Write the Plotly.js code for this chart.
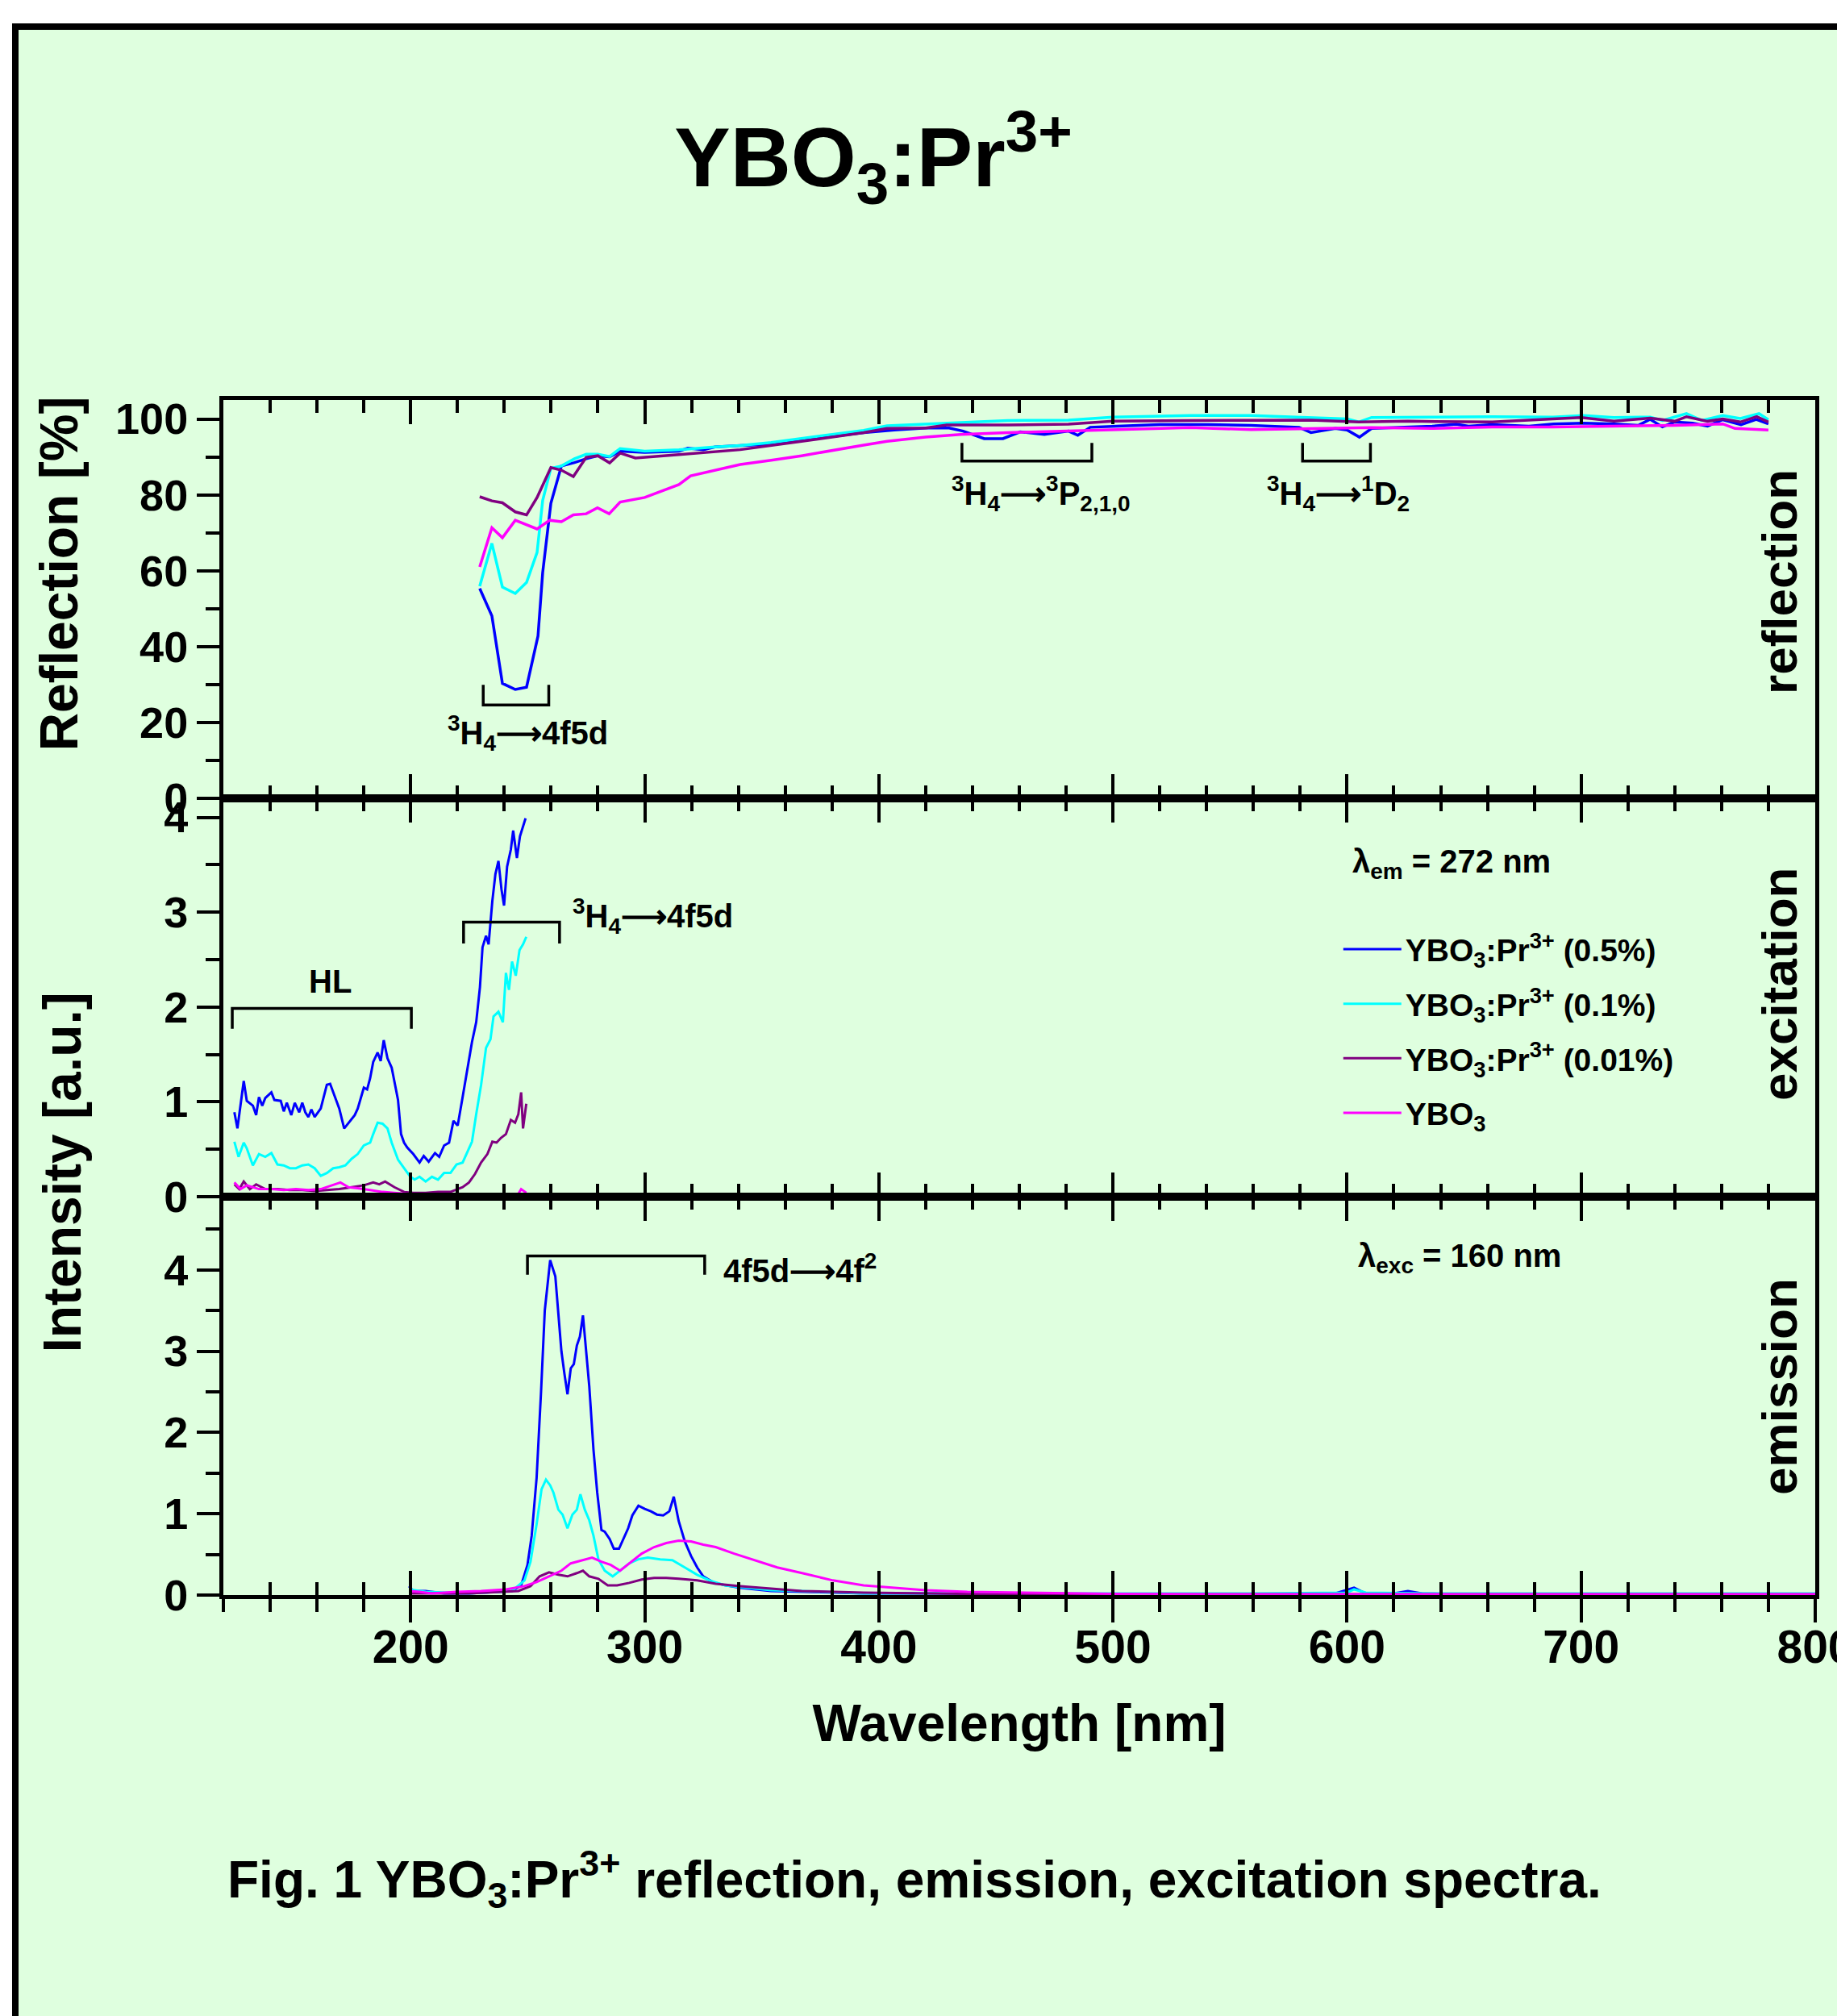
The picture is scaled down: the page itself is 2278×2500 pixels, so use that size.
<!DOCTYPE html>
<html>
<head>
<meta charset="utf-8">
<script src="https://cdn.plot.ly/plotly-3.0.1.min.js"></script>
<style>
  html, body { margin: 0; padding: 0; background: #ffffff; }
  #chart { width: 2278px; height: 2500px; }
</style>
</head>
<body>
<div id="chart"></div>
<script>
// ---------- series names / colours ----------
const seriesNames = [
  'YBO<sub>3</sub>:Pr<sup>3+</sup> (0.5%)',
  'YBO<sub>3</sub>:Pr<sup>3+</sup> (0.1%)',
  'YBO<sub>3</sub>:Pr<sup>3+</sup> (0.01%)',
  'YBO<sub>3</sub>'
];
const seriesColors = ['#0000ff', '#00ffff', '#800080', '#ff00ff'];

// ---------- reflection [%] ----------
const reflX_05 = [229.5,234.7,239.2,244.7,249.5,254.4,256.4,259.9,264.4,270,275,280,285,289.5,300,314.6,318.4,325,330,340.8,354,367,380,393.5,406.6,420,430,436,445,453,460.4,470.7,481,485,490.3,501.8,520,540.6,558.8,579.5,584.6,595,600,605.3,610.5,636.4,646.7,651.9,662,677.7,688.2,701,714,724.4,729.5,734.7,739.9,747.6,754,760.5,768.3,774.8,780];
const reflY_05 = [55.3,48.1,30.3,28.7,29.3,42.8,59.5,77.8,87.6,88.5,89.5,90.3,90.0,91.5,91.2,91.5,92.3,91.9,92.6,93.0,93.3,94.4,95.4,96.4,97.1,97.6,97.6,96.8,94.8,94.8,96.6,95.9,96.8,95.7,97.8,98.1,98.5,98.5,98.3,97.8,96.4,97.5,97.1,95.2,97.5,98.1,98.6,98.1,98.5,98.1,98.7,98.9,98.7,98.3,99.9,97.9,99.2,98.9,98.1,99.8,98.5,99.9,98.7];

const reflX_01 = [229.5,234.7,239.2,244.7,249.5,254,256.4,259.9,264.4,270,275,280,285,289.5,300,314.6,330,340.8,354,367,380,393.5,403.5,420,429.3,445,455,481,500,517,533,559,584.6,600,605,610.5,636,662,688,701,714,729.5,734.7,745,751.5,760.5,768,776,780];
const reflY_01 = [55.9,67.2,55.7,54.0,56.9,64.8,78.5,87.0,87.6,89.5,90.7,90.7,90.1,92.2,91.5,91.9,92.6,93.0,93.8,94.8,95.9,97.0,98.2,98.7,99.0,99.3,99.6,99.7,100.5,100.7,100.9,100.9,100.4,100.0,99.2,100.4,100.5,100.6,100.5,100.9,100.4,100.5,99.6,101.4,99.6,100.9,100.1,101.4,99.8];

const reflX_001 = [229.5,234.7,239.2,244.7,249.5,254,259.9,264.4,269.5,275,280,285,289.5,296,314.6,340.8,367,393.5,403.5,420,429,455,481,500,533,559,584.6,605,626,662,700,714,729.5,740,745,754,760.5,768,775,780];
const reflY_001 = [79.5,78.4,77.9,75.5,74.7,79.3,87.2,86.5,84.8,89.9,90.3,88.4,91.0,89.7,90.6,91.9,94.1,96.4,97.5,97.6,98.4,98.4,98.6,99.4,99.6,99.7,99.7,99.2,99.4,99.2,100.4,99.4,100.2,99.4,100.6,99.4,100.0,99.2,100.6,99.2];

const reflX_0 = [229.5,234.7,239.2,244.7,254,259.4,264.4,269.5,275,279.8,284.8,289.5,300,309,314.6,319.6,332.6,340.8,354,367,393.5,403.5,420,435,455,500,533,559,584.6,610.5,636,662,688,714,740,760.5,765.7,780];
const reflY_0 = [61.0,71.3,68.7,73.3,71.0,73.3,72.9,74.7,75.0,76.6,75.0,78.1,79.3,81.4,82.7,85.0,86.9,88.0,89.1,90.3,93.1,94.1,95.2,95.9,96.4,97.2,97.7,97.2,97.5,97.7,97.5,97.9,97.9,98.1,98.3,98.7,97.5,97.1];

// ---------- excitation (lambda_em = 272 nm) ----------
const excX_05 = [124.7,126,128.7,130,132.6,134,135.2,136.6,137.9,140.5,141.8,144.5,145.8,147.1,149,150.5,152.4,153.7,155,156.3,157.6,159,161.6,164.2,165.6,168.2,169.5,171.6,173.5,176.1,177.4,180,181.4,182.7,184,185.9,187.2,188.5,190.1,191.9,194.6,195.9,197.2,198.5,201.1,203.8,205.6,207.7,210.4,212.2,214.3,216.4,218.3,220.1,222.2,224.3,226.2,228,229.6,230.7,232.2,233.3,234.9,236.2,237.5,238.8,239.9,241.2,242.8,243.8,245.4,246.7,248,249.1];
const excY_05 = [0.89,0.72,1.22,1.01,0.96,0.86,1.05,0.96,1.04,1.10,1.02,1.01,0.90,0.99,0.86,0.99,0.89,0.99,0.89,0.84,0.92,0.84,0.93,1.18,1.19,1.02,0.93,0.72,0.78,0.86,0.93,1.15,1.13,1.25,1.42,1.52,1.43,1.65,1.46,1.36,1.02,0.66,0.57,0.52,0.45,0.36,0.43,0.37,0.46,0.42,0.54,0.57,0.80,0.75,1.05,1.36,1.63,1.84,2.21,2.63,2.75,2.66,3.12,3.40,3.54,3.24,3.07,3.48,3.66,3.86,3.57,3.80,3.90,3.99];

const excX_01 = [124.7,126.5,128.7,130,132.6,135.2,137.9,140.5,143.1,145.8,148.4,151,153.7,156.3,159,161.6,164.2,166.9,169.5,172.1,174.8,177.4,180,182.7,184,185.9,188,190.1,191.9,194.6,197.2,199.9,201.7,203.8,206.4,209.1,211.7,214.3,217,219.6,222.2,224.3,226.2,228,230.1,232.2,234.1,235.4,237.5,239.4,240.7,242,243.3,244.9,246.5,248,249.4];
const excY_01 = [0.58,0.42,0.57,0.51,0.33,0.45,0.42,0.46,0.34,0.33,0.30,0.30,0.33,0.34,0.30,0.22,0.25,0.30,0.31,0.33,0.40,0.45,0.54,0.57,0.66,0.78,0.77,0.72,0.57,0.39,0.30,0.21,0.18,0.21,0.16,0.21,0.18,0.25,0.25,0.34,0.36,0.48,0.58,0.87,1.18,1.57,1.66,1.90,1.95,1.84,2.36,2.18,2.48,2.33,2.60,2.66,2.74];

const excX_001 = [124.7,126.8,128.7,131.3,134,137.9,143.1,148.4,153.7,159,164.2,169.5,174.8,180,184,186.6,189.1,193.1,197.2,201.1,206.4,211.7,217,222.2,224.9,227.5,230.1,232.8,234.9,236.7,238.6,240.7,242.8,244.6,246,247.2,248,249.4];
const excY_001 = [0.13,0.08,0.16,0.08,0.13,0.08,0.08,0.07,0.07,0.06,0.07,0.08,0.10,0.12,0.15,0.13,0.16,0.10,0.05,0.04,0.04,0.05,0.05,0.10,0.15,0.24,0.36,0.45,0.58,0.57,0.62,0.66,0.81,0.78,0.87,1.10,0.72,0.98];

const excX_0 = [124.7,127.3,130,135.2,140.5,145.8,151,156.3,161.6,166.9,170,173.5,177.4,182.7,188,193.1,198.5,203.8,209.1,214.3,219.6,224.9,230.1,235.4,240.7,246,247.2,249.4];
const excY_0 = [0.15,0.08,0.12,0.08,0.08,0.07,0.08,0.07,0.08,0.12,0.15,0.10,0.09,0.07,0.05,0.04,0.03,0.03,0.02,0.02,0.02,0.02,0.02,0.02,0.02,0.03,0.08,0.04];

// ---------- emission (lambda_exc = 160 nm) ----------
const emX_05 = [199.3,201.1,206.4,214.3,224.9,235.4,243.3,247.2,249.9,251.7,253.8,255.7,257.3,258.6,259.6,261.8,263.1,264.4,265.7,267,268.4,269.7,271,272.3,273.6,275,276.3,278.1,279.7,281.5,282.9,285,286.8,289,290.8,292.9,294.7,297.3,300,302.6,305.2,307.9,310.5,312.4,314.5,317.1,319.8,322.4,325,329,334.3,340.8,354,367.2,393.5,420,450,500,550,595,603,608,620,626,632,650,700,750,800];
const emY_05 = [0.11,0.05,0.05,0.02,0.02,0.04,0.05,0.12,0.37,0.73,1.44,2.50,3.50,3.85,4.12,3.92,3.50,3.00,2.72,2.47,2.79,2.84,3.07,3.18,3.44,3.00,2.57,1.79,1.26,0.80,0.78,0.69,0.57,0.57,0.69,0.82,0.98,1.10,1.06,1.03,0.99,0.98,1.03,1.21,0.91,0.66,0.48,0.34,0.23,0.16,0.12,0.09,0.05,0.04,0.02,0.02,0.01,0.01,0.01,0.02,0.09,0.02,0.02,0.05,0.02,0.01,0.01,0.01,0.01];

const emX_01 = [199.3,206.4,224.9,243.3,248.6,251.2,253.8,255.9,257.8,259.6,261,263.1,264.9,267,269.1,271,272.5,274.4,276.3,278.1,280.2,282.9,286.3,289.5,293.4,297.3,301.3,306.6,311.8,317.1,322.4,327.7,334.3,340.8,354,367,393.5,420,500,560,600,603,608,640,700,800];
const emY_01 = [0.07,0.04,0.02,0.05,0.18,0.41,0.87,1.30,1.42,1.35,1.26,1.05,0.99,0.82,0.99,1.05,1.24,1.05,0.92,0.73,0.44,0.30,0.23,0.30,0.39,0.44,0.46,0.44,0.43,0.34,0.25,0.18,0.12,0.10,0.06,0.05,0.02,0.02,0.02,0.02,0.03,0.07,0.03,0.02,0.02,0.02];

const emX_001 = [199.3,224.9,246,251.2,255.1,259.1,263.1,267,271,273.6,276.3,280.2,284.2,288.2,293.4,298.7,304,309.2,314.5,322.4,330.3,340.8,354,367,393.5,419.9,450,500,600,700,800];
const emY_001 = [0.02,0.02,0.05,0.11,0.23,0.28,0.25,0.23,0.27,0.30,0.23,0.20,0.12,0.12,0.15,0.19,0.21,0.21,0.20,0.18,0.14,0.11,0.08,0.05,0.03,0.02,0.01,0.01,0.01,0.01,0.01];

const emX_0 = [199.3,203.8,209,219.6,230.1,240.7,248.6,253.8,259.1,264.4,268.4,273.6,277.5,281.5,285.5,289.5,293.4,298.7,304,309.2,314.5,319.8,325,330.3,338.2,346.1,356.6,367.2,380.4,393.5,406.7,419.9,437.8,460,500,550,600,700,800];
const emY_0 = [0.05,0.04,0.02,0.04,0.05,0.07,0.11,0.16,0.23,0.30,0.39,0.43,0.46,0.41,0.37,0.30,0.39,0.51,0.59,0.64,0.67,0.66,0.62,0.59,0.51,0.44,0.34,0.27,0.18,0.12,0.09,0.06,0.04,0.03,0.015,0.01,0.01,0.01,0.01];

// ---------- axis ranges ----------
const xRange = [120, 800.001];
const reflRange = [0, 105];
const excRange = [0, 4.2];
const emRange = [0, 4.9];

// ---------- fonts ----------
const SANS = "'Liberation Sans', Arial, Helvetica, sans-serif";
const BG = '#dfffdf';
const ARROW = '⟶';

// ---------- traces ----------
const refl = [[reflX_05, reflY_05], [reflX_01, reflY_01], [reflX_001, reflY_001], [reflX_0, reflY_0]];
const exc = [[excX_05, excY_05], [excX_01, excY_01], [excX_001, excY_001], [excX_0, excY_0]];
const em = [[emX_05, emY_05], [emX_01, emY_01], [emX_001, emY_001], [emX_0, emY_0]];

const traces = [];
refl.forEach((s, i) => traces.push({
  x: s[0], y: s[1], xaxis: 'x', yaxis: 'y', type: 'scatter', mode: 'lines',
  name: seriesNames[i], legendgroup: 'g' + i, showlegend: false,
  line: { color: seriesColors[i], width: 3.5 }
}));
exc.forEach((s, i) => traces.push({
  x: s[0], y: s[1], xaxis: 'x2', yaxis: 'y2', type: 'scatter', mode: 'lines',
  name: seriesNames[i], legendgroup: 'g' + i, showlegend: true,
  line: { color: seriesColors[i], width: 3 }
}));
em.forEach((s, i) => traces.push({
  x: s[0], y: s[1], xaxis: 'x3', yaxis: 'y3', type: 'scatter', mode: 'lines',
  name: seriesNames[i], legendgroup: 'g' + i, showlegend: false,
  line: { color: seriesColors[i], width: 3 }
}));
// empty helper trace so the overlay axis carrying the inner ticks exists
traces.push({ x: [], y: [], xaxis: 'x4', yaxis: 'y3', type: 'scatter', mode: 'lines', showlegend: false, hoverinfo: 'skip' });

// ---------- axes ----------
function xAx(anchor, extra) {
  return Object.assign({
    anchor: anchor, range: xRange, tick0: 0, dtick: 100,
    showline: true, linecolor: 'black', linewidth: 5,
    ticks: 'inside', ticklen: 30, tickwidth: 4, tickcolor: 'black',
    mirror: 'ticks', showticklabels: false, showgrid: false, zeroline: false,
    minor: { tick0: 0, dtick: 20, ticks: 'inside', ticklen: 16, tickwidth: 4, tickcolor: 'black', showgrid: false }
  }, extra || {});
}
function yAx(domain, range, dtick, extra) {
  return Object.assign({
    domain: domain, range: range, dtick: dtick, tick0: 0, anchor: 'x',
    showline: true, linecolor: 'black', linewidth: 5, mirror: true,
    ticks: 'outside', ticklen: 28, tickwidth: 4, tickcolor: 'black',
    showgrid: false, zeroline: false,
    tickfont: { family: SANS, size: 54, color: 'black', weight: 'bold' },
    minor: { dtick: dtick / 2, tick0: 0, ticks: 'outside', ticklen: 17, tickwidth: 4, tickcolor: 'black', showgrid: false }
  }, extra || {});
}

// bracket helper (decorations in data space)
function bracket(xref, yref, xa, xb, yLine, yEnd) {
  return { type: 'path', xref: xref, yref: yref,
    path: `M${xa},${yEnd} L${xa},${yLine} L${xb},${yLine} L${xb},${yEnd}`,
    line: { color: 'black', width: 3.5 } };
}

function txt(text, xref, yref, x, y, opts) {
  return Object.assign({ text: text, xref: xref, yref: yref, x: x, y: y, showarrow: false,
    xanchor: 'center', yanchor: 'middle',
    font: { family: SANS, size: 40, color: 'black', weight: 'bold' } }, opts || {});
}

const annotations = [
  // panel names
  txt('reflection', 'paper', 'paper', 0.9777, 0.8482, { textangle: -90, font: { family: SANS, size: 62, color: 'black', weight: 'bold' } }),
  txt('excitation', 'paper', 'paper', 0.9777, 0.5115, { textangle: -90, font: { family: SANS, size: 62, color: 'black', weight: 'bold' } }),
  txt('emission', 'paper', 'paper', 0.9777, 0.1748, { textangle: -90, font: { family: SANS, size: 62, color: 'black', weight: 'bold' } }),
  // y titles
  txt('Reflection [%]', 'paper', 'paper', -0.1035, 0.8543, { textangle: -90, font: { family: SANS, size: 66, color: 'black', weight: 'bold' } }),
  txt('Intensity [a.u.]', 'paper', 'paper', -0.1015, 0.3536, { textangle: -90, font: { family: SANS, size: 66, color: 'black', weight: 'bold' } }),
  // transitions
  txt('<sup>3</sup>H<sub>4</sub>' + ARROW + '4f5d', 'x', 'y', 249.9, 17.2),
  txt('<sup>3</sup>H<sub>4</sub>' + ARROW + '<sup>3</sup>P<sub>2,1,0</sub>', 'x', 'y', 469.3, 80.4),
  txt('<sup>3</sup>H<sub>4</sub>' + ARROW + '<sup>1</sup>D<sub>2</sub>', 'x', 'y', 596.4, 80.4),
  txt('<sup>3</sup>H<sub>4</sub>' + ARROW + '4f5d', 'x2', 'y2', 268.5, 2.96, { xanchor: 'left' }),
  txt('HL', 'x2', 'y2', 165.5, 2.27),
  txt('4f5d' + ARROW + '4f<sup>2</sup>', 'x3', 'y3', 332.9, 4.02, { xanchor: 'left' }),
  // excitation / emission wavelengths
  txt('λ<sub>em</sub> = 272 nm', 'paper', 'paper', 0.7082, 0.612, { xanchor: 'left', font: { family: SANS, size: 40, color: 'black', weight: 'bold' } }),
  txt('λ<sub>exc</sub> = 160 nm', 'paper', 'paper', 0.7118, 0.282, { xanchor: 'left', font: { family: SANS, size: 40, color: 'black', weight: 'bold' } }),
  // caption
  txt('Fig. 1 YBO<sub>3</sub>:Pr<sup>3+</sup> reflection, emission, excitation spectra.', 'paper', 'paper', 0.0015, -0.2375,
      { xanchor: 'left', font: { family: SANS, size: 64, color: 'black', weight: 'bold' } })
];

const shapes = [
  // outer frame with green fill
  { type: 'rect', xref: 'paper', yref: 'paper', layer: 'below',
    x0: -0.1307, x1: 1.03, y0: -0.40, y1: 1.3124,
    fillcolor: BG, line: { color: 'black', width: 8 } },
  bracket('x', 'y', 231, 259, 24.6, 29.9),
  bracket('x', 'y', 435.5, 491, 88.9, 93.7),
  bracket('x', 'y', 581, 610, 88.9, 93.7),
  bracket('x2', 'y2', 222.6, 263.6, 2.896, 2.67),
  bracket('x2', 'y2', 123.8, 200.3, 1.985, 1.77),
  bracket('x3', 'y3', 249.9, 325.6, 4.17, 3.94)
];

const layout = {
  width: 2278, height: 2500,
  margin: { l: 277, r: 27, t: 496, b: 522, pad: 0 },
  paper_bgcolor: '#ffffff',
  plot_bgcolor: 'rgba(0,0,0,0)',
  font: { family: SANS, color: 'black' },
  title: {
    text: 'YBO<sub>3</sub>:Pr<sup>3+</sup>',
    font: { family: SANS, size: 104, color: 'black', weight: 'bold' },
    xref: 'container', yref: 'container', x: 0.4754, xanchor: 'center', y: 0.922, yanchor: 'middle'
  },
  showlegend: true,
  legend: {
    x: 0.701, y: 0.562, xanchor: 'left', yanchor: 'top', xref: 'paper', yref: 'paper',
    bgcolor: 'rgba(0,0,0,0)', borderwidth: 0, itemwidth: 72, tracegroupgap: 14,
    font: { family: SANS, size: 39, color: 'black', weight: 'bold' }
  },
  xaxis: xAx('y'),
  xaxis2: xAx('y2'),
  xaxis3: xAx('y3', {
    ticks: 'outside', ticklen: 29, mirror: false, showticklabels: true,
    ticklabeloverflow: 'allow', ticklabelstandoff: -18,
    tickfont: { family: SANS, size: 57, color: 'black', weight: 'bold' },
    minor: { tick0: 0, dtick: 20, ticks: 'outside', ticklen: 16, tickwidth: 4, tickcolor: 'black', showgrid: false },
    title: { text: 'Wavelength [nm]', standoff: 42, font: { family: SANS, size: 64, color: 'black', weight: 'bold' } }
  }),
  xaxis4: xAx('y3', { overlaying: 'x3', side: 'bottom' }),
  yaxis: yAx([2/3, 1], reflRange, 20, { anchor: 'x' }),
  yaxis2: yAx([1/3, 2/3], excRange, 1, { anchor: 'x2' }),
  yaxis3: yAx([0, 1/3], emRange, 1, { anchor: 'x3' }),
  annotations: annotations,
  shapes: shapes
};

Plotly.newPlot('chart', traces, layout, { staticPlot: true, displayModeBar: false });
</script>
</body>
</html>
